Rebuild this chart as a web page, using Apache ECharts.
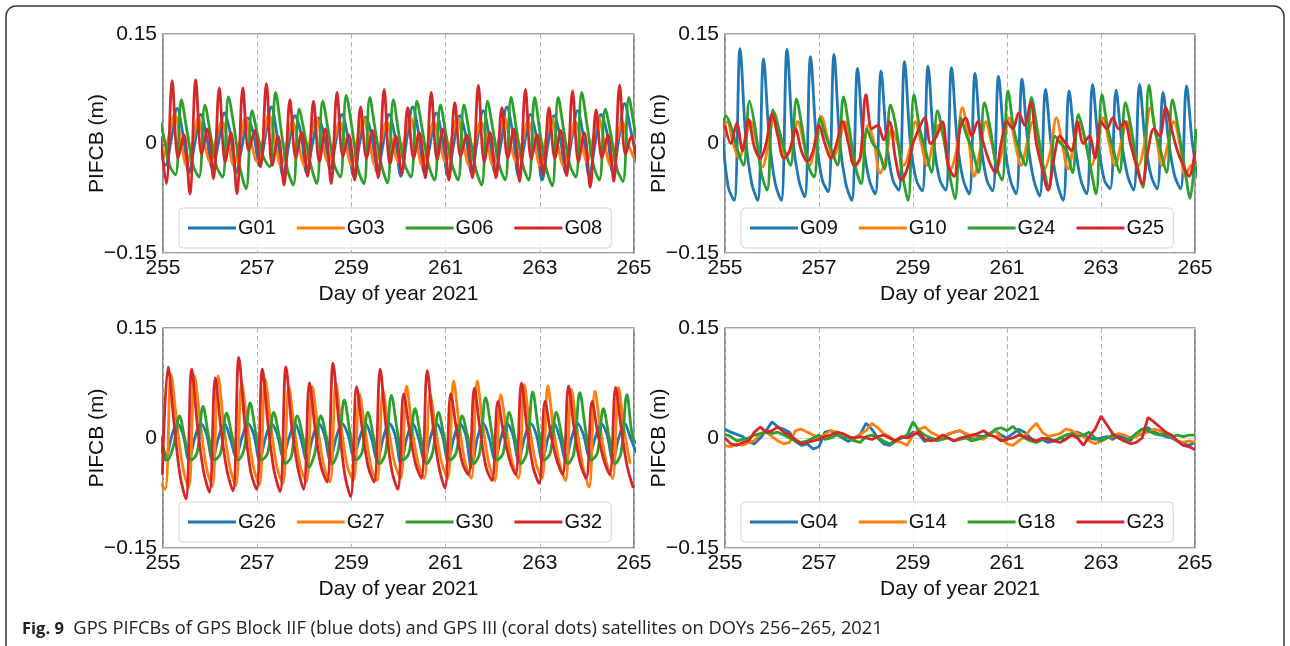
<!DOCTYPE html>
<html><head><meta charset="utf-8">
<script src="https://cdn.jsdelivr.net/npm/echarts@6/dist/echarts.min.js"></script>
<style>html,body{margin:0;padding:0;background:#fff}#c{width:1290px;height:646px}</style>
</head><body><div id="c"></div>
<script>
const STEP = 0.125;
const xTicks = [255, 257, 259, 261, 263, 265];
const yTicks = [-0.15, 0, 0.15];

// ---------- Panel 1 : G01 G03 G06 G08 ----------
const g01Start = 254.925;
const g01 = [0.0,
 -0.03,0.005,0.048,0.012, -0.04,0.0,0.04,0.01, -0.035,0.0,0.042,0.015, -0.04,-0.005,0.035,0.012,
 -0.03,0.01,0.05,0.01, -0.045,0.0,0.038,0.015, -0.04,0.0,0.035,0.01, -0.035,0.005,0.04,0.008,
 -0.045,0.0,0.036,0.012, -0.04,0.0,0.04,0.01, -0.045,0.005,0.05,0.015, -0.04,0.0,0.042,0.01,
 -0.045,0.0,0.038,0.012, -0.04,0.005,0.045,0.01, -0.04,0.0,0.05,0.015, -0.045,0.0,0.04,0.01,
 -0.05,0.0,0.038,0.012, -0.04,0.005,0.045,0.01, -0.045,0.0,0.04,0.015, -0.04,0.005,0.055,0.02, -0.02];
const g03Start = 254.875;
const g03 = [0.01,
 -0.02,0.01,0.04,0.005, -0.03,0.0,0.035,0.0, -0.025,0.005,0.03,0.005, -0.03,0.0,0.035,0.0,
 -0.025,0.005,0.04,0.005, -0.03,0.0,0.03,0.0, -0.03,0.005,0.035,0.005, -0.025,0.0,0.03,0.0,
 -0.03,0.005,0.035,0.005, -0.03,0.0,0.03,0.0, -0.025,0.005,0.035,0.005, -0.03,0.0,0.03,0.0,
 -0.025,0.005,0.035,0.0, -0.03,0.0,0.03,0.005, -0.03,0.005,0.035,0.0, -0.025,0.0,0.03,0.005,
 -0.03,0.005,0.035,0.0, -0.03,0.0,0.03,0.005, -0.025,0.005,0.035,0.0, -0.03,0.0,0.03,0.0, -0.02];
const g06Start = 254.89;
const g06 = [0.04,0.01,-0.03,-0.043,
 0.060,0.015,-0.03,-0.046, 0.053,0.01,-0.032,-0.046, 0.064,0.02,-0.035,-0.062, 0.045,0.01,-0.02,-0.032,
 0.070,0.015,-0.035,-0.057, 0.047,0.01,-0.03,-0.055, 0.058,0.015,-0.03,-0.046, 0.066,0.02,-0.035,-0.055,
 0.063,0.015,-0.03,-0.054, 0.060,0.01,-0.03,-0.046, 0.058,0.015,-0.03,-0.05, 0.053,0.01,-0.03,-0.05,
 0.053,0.01,-0.035,-0.057, 0.058,0.015,-0.03,-0.05, 0.063,0.015,-0.03,-0.05, 0.063,0.01,-0.035,-0.058,
 0.063,0.015,-0.03,-0.046, 0.070,0.02,-0.03,-0.05, 0.047,0.01,-0.035,-0.052, 0.063,0.02,-0.02];
const g08Start = 254.945;
const g08 = [0.01,
 -0.055,0.086,-0.02,0.012, -0.069,0.087,-0.015,0.02, -0.048,0.076,-0.025,0.015, -0.069,0.076,-0.01,0.018,
 -0.032,0.082,-0.03,0.01, -0.057,0.060,-0.02,0.015, -0.045,0.058,-0.025,0.02, -0.055,0.070,-0.018,0.012,
 -0.050,0.050,-0.02,0.018, -0.047,0.074,-0.028,0.01, -0.042,0.049,-0.02,0.015, -0.047,0.070,-0.022,0.02,
 -0.050,0.056,-0.018,0.012, -0.047,0.080,-0.025,0.015, -0.047,0.049,-0.02,0.02, -0.052,0.074,-0.022,0.012,
 -0.042,0.049,-0.02,0.018, -0.044,0.072,-0.025,0.015, -0.060,0.046,-0.02,0.012, -0.052,0.080,-0.015,0.01, -0.03];

// ---------- Panel 2 : G09 G10 G24 G25 ----------
const g09Start = 254.82;
const g09 = [0.12,0.01,-0.06,-0.078,
 0.130,0.005,-0.055,-0.078, 0.116,0.005,-0.055,-0.078, 0.129,0.005,-0.05,-0.073, 0.119,0.005,-0.05,-0.066,
 0.122,0.0,-0.055,-0.078, 0.103,0.0,-0.05,-0.069, 0.099,0.0,-0.05,-0.064, 0.112,0.0,-0.05,-0.065,
 0.106,0.0,-0.05,-0.064, 0.104,0.0,-0.05,-0.069, 0.096,0.0,-0.05,-0.065, 0.092,0.0,-0.05,-0.069,
 0.088,0.0,-0.05,-0.072, 0.074,-0.005,-0.055,-0.078, 0.072,0.0,-0.05,-0.069, 0.081,0.0,-0.05,-0.062,
 0.073,0.0,-0.045,-0.064, 0.081,0.0,-0.045,-0.062, 0.070,0.0,-0.045,-0.062, 0.079,0.0,-0.05];
const g10Start = 254.925;
const g10 = [0.01,
 0.03,0.0,-0.02,0.005, 0.03,0.0,-0.032,0.0, 0.042,0.01,-0.02,0.0, 0.03,0.0,-0.03,0.0,
 0.037,0.01,-0.02,0.0, 0.03,0.0,-0.03,-0.01, 0.025,0.0,-0.041,-0.02, 0.02,0.0,-0.03,-0.01,
 0.03,0.0,-0.03,0.0, 0.025,0.0,-0.035,-0.01, 0.049,0.01,-0.045,-0.01, 0.03,0.0,-0.03,0.0,
 0.035,0.0,-0.03,0.0, 0.03,0.0,-0.035,-0.01, 0.035,0.0,-0.035,0.0, 0.03,0.0,-0.03,0.0,
 0.035,0.0,-0.03,0.0, 0.03,0.0,-0.03,0.0, 0.049,0.01,-0.03,0.0, 0.03,0.0,-0.045,-0.03, -0.03];
const g24Start = 254.895;
const g24 = [0.0,
 0.038,0.02,-0.01,-0.03, 0.058,0.02,-0.04,-0.064, 0.046,0.02,-0.01,-0.03, 0.061,0.02,-0.03,-0.046,
 0.035,0.01,-0.01,-0.03, 0.064,0.02,-0.03,-0.055, 0.02,0.0,-0.01,-0.035, 0.053,0.02,-0.04,-0.078,
 0.067,0.02,-0.01,-0.04, 0.045,0.01,-0.04,-0.076, 0.035,0.01,-0.01,-0.04, 0.056,0.02,-0.03,-0.05,
 0.072,0.02,-0.01,-0.03, 0.063,0.02,-0.03,-0.06, 0.01,0.0,-0.01,-0.04, 0.04,0.01,-0.03,-0.069,
 0.067,0.02,-0.01,-0.04, 0.056,0.02,-0.03,-0.06, 0.080,0.02,-0.01,-0.04, 0.060,0.02,-0.03,-0.075, 0.02];
const g25Start = 255.0;
const g25 = [0.025,0.0,0.028,-0.01,0.033,-0.005,-0.02,0.0,
 0.04,0.01,-0.02,-0.01,0.02,-0.01,-0.025,-0.01,
 0.025,0.0,-0.02,0.0,0.03,0.0,-0.03,-0.02,
 0.067,0.02,0.025,0.005,0.03,-0.02,-0.05,-0.035,
 0.0,0.02,0.035,0.0,0.01,0.03,-0.03,-0.045,
 0.02,0.035,0.01,0.03,0.0,-0.025,-0.04,0.0,
 0.03,0.02,0.042,0.025,0.056,0.0,-0.035,-0.064,
 -0.02,0.01,0.0,-0.01,0.03,0.0,0.01,-0.02,
 0.03,0.02,0.035,0.02,0.03,0.0,-0.03,-0.055,
 -0.01,0.02,0.01,0.049,0.02,-0.01,-0.03,-0.045, -0.01];

// ---------- Panel 3 : G26 G27 G30 G32 ----------
const g26Start = 254.925;
const g26 = [0.0,
 -0.03,0.0,0.02,0.005, -0.03,0.0,0.02,0.005, -0.03,0.0,0.02,0.0, -0.025,0.0,0.02,0.005,
 -0.03,0.0,0.02,0.005, -0.025,0.0,0.02,0.0, -0.03,0.0,0.02,0.005, -0.03,0.0,0.02,0.005,
 -0.025,0.0,0.02,0.0, -0.03,0.0,0.02,0.005, -0.035,0.0,0.02,0.0, -0.03,0.0,0.02,0.005,
 -0.03,0.0,0.02,0.005, -0.04,0.0,0.02,0.0, -0.03,0.0,0.02,0.005, -0.03,0.0,0.02,0.005,
 -0.03,0.0,0.02,0.0, -0.03,0.0,0.02,0.005, -0.025,0.0,0.02,0.005, -0.03,0.0,0.02,0.0, -0.02];
const g27Start = 254.92;
const g27 = [-0.06,-0.07,
 0.087,0.02,-0.04,-0.068, 0.085,0.02,-0.04,-0.066, 0.085,0.015,-0.04,-0.065, 0.075,0.015,-0.04,-0.064,
 0.080,0.015,-0.04,-0.062, 0.070,0.01,-0.04,-0.06, 0.070,0.01,-0.04,-0.06, 0.075,0.01,-0.04,-0.058,
 0.060,0.01,-0.04,-0.058, 0.065,0.01,-0.035,-0.055, 0.071,0.01,-0.035,-0.055, 0.060,0.01,-0.035,-0.055,
 0.078,0.015,-0.035,-0.055, 0.078,0.015,-0.035,-0.058, 0.059,0.01,-0.035,-0.055, 0.073,0.01,-0.035,-0.055,
 0.071,0.01,-0.035,-0.058, 0.066,0.01,-0.04,-0.067, 0.064,0.01,-0.035,-0.055, 0.069,0.01,-0.035];
const g30Start = 254.85;
const g30 = [0.02,-0.005,-0.03,-0.01,
 0.030,-0.005,-0.03,-0.02, 0.043,0.0,-0.03,-0.02, 0.034,0.0,-0.03,-0.015, 0.048,0.005,-0.03,-0.02,
 0.035,0.0,-0.035,-0.025, 0.030,0.0,-0.04,-0.02, 0.030,0.0,-0.035,-0.015, 0.052,0.005,-0.03,-0.02,
 0.035,0.0,-0.035,-0.02, 0.058,0.01,-0.03,-0.02, 0.040,0.0,-0.035,-0.02, 0.035,0.0,-0.03,-0.02,
 0.030,0.0,-0.035,-0.02, 0.055,0.01,-0.03,-0.02, 0.035,0.0,-0.035,-0.02, 0.063,0.01,-0.03,-0.02,
 0.035,0.0,-0.035,-0.02, 0.062,0.01,-0.03,-0.02, 0.040,0.0,-0.035,-0.02, 0.059,0.0,-0.01];
const g32Start = 254.985;
const g32 = [-0.05,
 0.097,0.02,-0.05,-0.083, 0.094,0.015,-0.045,-0.074, 0.082,0.01,-0.045,-0.072, 0.110,0.02,-0.045,-0.07,
 0.094,0.015,-0.045,-0.073, 0.097,0.015,-0.04,-0.07, 0.075,0.01,-0.04,-0.06, 0.102,0.02,-0.05,-0.08,
 0.070,0.01,-0.04,-0.06, 0.094,0.015,-0.045,-0.07, 0.060,0.01,-0.035,-0.055, 0.092,0.015,-0.04,-0.068,
 0.060,0.01,-0.035,-0.05, 0.068,0.01,-0.04,-0.058, 0.050,0.005,-0.03,-0.05, 0.075,0.01,-0.04,-0.062,
 0.050,0.005,-0.03,-0.05, 0.071,0.01,-0.035,-0.055, 0.050,0.005,-0.03,-0.05, 0.069,0.01,-0.04,-0.068];

// ---------- Panel 4 : G04 G14 G18 G23 ----------
const g04Start = 255.0;
const g04 = [0.012,0.008,0.005,0.002,-0.005,-0.008,0.0,0.01,
 0.022,0.015,0.012,0.008,-0.005,-0.01,-0.008,-0.015,
 -0.012,0.008,0.01,0.005,0.0,-0.005,0.0,0.005,
 0.02,0.012,0.0,-0.008,-0.01,-0.005,0.0,0.002,
 0.008,0.005,-0.005,0.0,-0.002,0.002,0.005,0.008,
 0.01,0.005,0.0,0.003,0.002,0.006,0.01,0.004,
 0.0,0.006,0.012,0.008,0.0,-0.005,-0.002,-0.006,
 -0.004,0.0,-0.002,0.006,0.008,0.004,0.0,-0.002,
 0.0,0.002,-0.002,0.004,0.0,-0.004,0.006,0.012,
 0.014,0.008,0.005,0.002,0.0,-0.004,-0.008,-0.01, -0.006];
const g14Start = 255.0;
const g14 = [-0.01,-0.012,-0.008,-0.01,-0.006,-0.004,0.006,0.008,
 0.002,-0.004,-0.008,-0.006,0.01,0.012,0.008,0.004,
 0.0,0.005,0.01,0.008,0.006,0.002,-0.002,0.005,
 0.01,0.02,0.014,0.006,0.002,-0.004,-0.006,-0.01,
 0.004,0.012,0.015,0.008,0.004,0.0,0.006,0.008,
 0.01,0.006,0.002,0.0,-0.002,0.006,0.01,0.0,
 -0.008,-0.01,-0.004,0.002,0.012,0.02,0.008,0.002,
 0.004,0.006,0.012,0.01,0.006,0.002,-0.004,-0.008,
 -0.004,0.0,0.002,0.006,0.004,0.0,0.002,0.006,
 0.008,0.012,0.01,0.006,0.002,-0.004,-0.006,-0.004, -0.006];
const g18Start = 255.0;
const g18 = [0.005,0.002,-0.004,-0.002,0.0,0.004,0.006,0.008,
 0.006,0.008,0.004,0.0,-0.004,-0.006,-0.004,0.0,
 0.004,-0.002,0.0,0.004,0.002,0.0,-0.004,-0.006,
 0.002,0.004,0.0,-0.004,-0.008,-0.004,0.0,0.004,
 0.022,0.01,0.004,0.0,-0.004,-0.002,0.0,-0.004,
 -0.002,0.0,-0.004,-0.002,0.002,0.004,0.012,0.014,
 0.01,0.016,0.008,0.0,-0.004,-0.006,-0.002,0.0,
 -0.004,0.0,0.004,0.006,0.002,0.004,0.008,0.0,
 -0.004,0.0,0.004,0.0,-0.004,0.0,0.006,0.012,
 0.01,0.006,0.004,0.006,0.002,0.004,0.002,0.004, 0.004];
const g23Start = 255.0;
const g23 = [0.0,-0.008,-0.01,-0.006,-0.004,0.008,0.015,0.008,
 0.01,0.015,0.008,0.004,-0.002,-0.008,-0.006,-0.004,
 -0.002,0.002,0.004,0.008,0.006,0.002,0.0,0.002,
 0.0,-0.002,0.002,0.004,0.0,-0.004,0.002,0.0,
 0.004,0.008,-0.002,-0.004,-0.002,0.004,0.0,-0.004,
 0.0,0.002,0.004,0.006,0.01,0.004,0.002,-0.004,
 -0.002,0.0,0.004,0.002,-0.002,-0.004,0.0,-0.002,
 -0.004,-0.006,-0.002,0.004,0.0,-0.01,0.002,0.012,
 0.03,0.018,0.006,0.0,-0.004,-0.008,-0.006,0.0,
 0.028,0.022,0.015,0.008,0.004,-0.004,-0.01,-0.012, -0.016];

const COLORS = ['#1f77b4', '#ff7f0e', '#2ca02c', '#d62728'];
const panels = [
  {names: ['G01','G03','G06','G08'], data: [[g01Start,g01],[g03Start,g03],[g06Start,g06],[g08Start,g08]], smooth: 0.35},
  {names: ['G09','G10','G24','G25'], data: [[g09Start,g09],[g10Start,g10],[g24Start,g24],[g25Start,g25]], smooth: 0.35},
  {names: ['G26','G27','G30','G32'], data: [[g26Start,g26],[g27Start,g27],[g30Start,g30],[g32Start,g32]], smooth: 0.35},
  {names: ['G04','G14','G18','G23'], data: [[g04Start,g04],[g14Start,g14],[g18Start,g18],[g23Start,g23]], smooth: false}
];
const gridPos = [
  {left: 163, top: 34, width: 471, height: 219},
  {left: 725, top: 34, width: 470, height: 219},
  {left: 163, top: 328, width: 471, height: 220},
  {left: 725, top: 328, width: 470, height: 220}
];

function toPairs(start, vals) {
  return vals.map((v, i) => [Math.round((start + i * STEP) * 10000) / 10000, v]);
}
const FONT = "'Liberation Sans', Arial, Helvetica, sans-serif";
const chart = echarts.init(document.getElementById('c'), null, {renderer: 'canvas'});
const grids = [], xAxes = [], yAxes = [], series = [], legends = [];
gridPos.forEach((g, p) => {
  grids.push(Object.assign({show: true, borderColor: '#444', borderWidth: 1.2, backgroundColor: 'transparent'}, g));
  xAxes.push({
    gridIndex: p, type: 'value', min: 255, max: 265, interval: 2,
    name: 'Day of year 2021', nameLocation: 'middle', nameGap: 31,
    nameTextStyle: {fontFamily: FONT, fontSize: 21, color: '#111'},
    axisLine: {show: false}, axisTick: {show: false},
    axisLabel: {fontFamily: FONT, fontSize: 21, color: '#111', margin: 5},
    splitLine: {show: true, lineStyle: {color: '#b5b5b5', width: 1, type: [5, 3]}}
  });
  yAxes.push({
    gridIndex: p, type: 'value', min: -0.15, max: 0.15, interval: 0.15,
    name: 'PIFCB (m)', nameLocation: 'middle', nameGap: 55, nameRotate: 90, nameMoveOverlap: false,
    nameTextStyle: {fontFamily: FONT, fontSize: 21, color: '#111'},
    axisLine: {show: false}, axisTick: {show: false},
    axisLabel: {fontFamily: FONT, fontSize: 21, color: '#111', margin: 6,
      formatter: v => v === 0 ? '0' : (v < 0 ? '\u2212' : '') + Math.abs(v).toFixed(2)},
    splitLine: {show: true, lineStyle: {color: '#d8d8d8', width: 1}}
  });
  const pn = panels[p];
  pn.names.forEach((nm, s) => {
    series.push({
      name: nm, type: 'line', xAxisIndex: p, yAxisIndex: p,
      data: toPairs(pn.data[s][0], pn.data[s][1]),
      symbol: 'none', smooth: pn.smooth, clip: true,
      lineStyle: {color: COLORS[s], width: 2.8},
      itemStyle: {color: COLORS[s]}, z: 2 + s, animation: false
    });
  });
  legends.push({
    data: pn.names, left: g.left + 16, top: g.top + 174,
    orient: 'horizontal', icon: 'rect', itemWidth: 48, itemHeight: 3, itemGap: 21,
    padding: [10, 9, 10, 9],
    backgroundColor: 'rgba(255,255,255,0.85)', borderColor: '#d5d5d5', borderWidth: 1, borderRadius: 4,
    textStyle: {fontFamily: FONT, fontSize: 20, color: '#111', padding: [0, 0, 0, -3], lineHeight: 20},
    selectedMode: false
  });
});

chart.setOption({
  animation: false,
  backgroundColor: '#fff',
  grid: grids, xAxis: xAxes, yAxis: yAxes, series: series, legend: legends,
  graphic: [
    {type: 'rect', shape: {x: 6, y: 6, width: 1278, height: 720, r: 10}, silent: true,
     style: {fill: 'none', stroke: '#3a3a3a', lineWidth: 1.5}, z: 100},
    {type: 'text', left: 22, top: 620, silent: true, z: 100,
     style: {text: '{b|Fig. 9}  GPS PIFCBs of GPS Block IIF (blue dots) and GPS III (coral dots) satellites on DOYs 256\u2013265, 2021',
       fontFamily: "'Open Sans', 'Noto Sans', sans-serif", fontSize: 18.3, fill: '#222',
       rich: {b: {fontFamily: "'Open Sans', 'Noto Sans', sans-serif", fontWeight: 'bold', fontSize: 16.5, fill: '#222'}}}}
  ]
});
</script></body></html>
